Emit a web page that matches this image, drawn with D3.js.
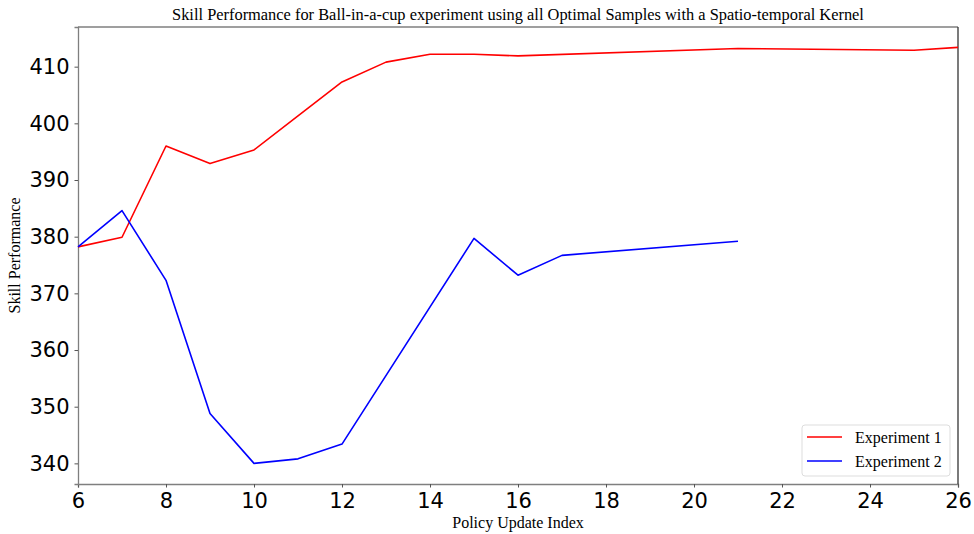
<!DOCTYPE html>
<html>
<head>
<meta charset="utf-8">
<script src="https://cdn.jsdelivr.net/npm/d3@7"></script>
<style>
  html, body { margin: 0; padding: 0; background: #fff; }
  svg { display: block; }
</style>
</head>
<body>
<svg id="chart" width="974" height="534"></svg>
<script>
// Experiment 1 (red)
const exp1X = [6, 7, 8, 9, 10, 11, 12, 13, 14, 15, 16, 21, 25, 26];
const exp1Y = [378.2, 379.9, 396.0, 392.9, 395.3, 401.3, 407.3, 410.8, 412.2, 412.2, 411.9, 413.2, 412.9, 413.4];

// Experiment 2 (blue)
const exp2X = [6, 7, 8, 9, 10, 11, 12, 15, 16, 17, 21];
const exp2Y = [378.2, 384.6, 372.3, 348.8, 340.0, 340.8, 343.4, 379.7, 373.2, 376.7, 379.2];

const xTicks = [6, 8, 10, 12, 14, 16, 18, 20, 22, 24, 26];
const yTicks = [340, 350, 360, 370, 380, 390, 400, 410];

const seriesNames = ["Experiment 1", "Experiment 2"];
const seriesColors = ["#ff0000", "#0000ff"];

const titleText = "Skill Performance for Ball-in-a-cup experiment using all Optimal Samples with a Spatio-temporal Kernel";
const xLabel = "Policy Update Index";
const yLabel = "Skill Performance";

const margin = { left: 78, right: 16, top: 27, bottom: 50 };
const W = 974, H = 534;
const svg = d3.select("#chart");

const x = d3.scaleLinear().domain([6, 26]).range([margin.left, W - margin.right]);
const y = d3.scaleLinear().domain([336.36, 417.0]).range([H - margin.bottom, margin.top]);

const serif = "'Liberation Serif', 'Times New Roman', serif";
const sans = "'DejaVu Sans', sans-serif";

// axes
const xAxis = svg.append("g")
  .attr("transform", `translate(0,${H - margin.bottom})`)
  .call(d3.axisBottom(x).tickValues(xTicks).tickFormat(d3.format("d")).tickSizeOuter(0).tickSize(3.5).tickPadding(5));
const yAxis = svg.append("g")
  .attr("transform", `translate(${margin.left},0)`)
  .call(d3.axisLeft(y).tickValues(yTicks).tickFormat(d3.format("d")).tickSizeOuter(0).tickSize(3.5).tickPadding(5));

[xAxis, yAxis].forEach(g => {
  g.select(".domain").attr("stroke", "#7f7f7f").attr("stroke-width", 1.3);
  g.selectAll(".tick line").attr("stroke", "#555").attr("stroke-width", 1);
  g.selectAll(".tick text").attr("fill", "#000").style("font-family", sans).style("font-size", "21px");
});
xAxis.selectAll(".tick text").attr("dy", "0.75em");

// top and right spines
svg.append("line")
  .attr("x1", margin.left).attr("x2", W - margin.right)
  .attr("y1", margin.top).attr("y2", margin.top)
  .attr("stroke", "#7f7f7f").attr("stroke-width", 1.3);
svg.append("line")
  .attr("x1", W - margin.right).attr("x2", W - margin.right)
  .attr("y1", margin.top).attr("y2", H - margin.bottom)
  .attr("stroke", "#333").attr("stroke-width", 1.3);

// lines
const line = d3.line().x(d => x(d[0])).y(d => y(d[1]));
const series = [
  exp1X.map((v, i) => [v, exp1Y[i]]),
  exp2X.map((v, i) => [v, exp2Y[i]])
];
series.forEach((pts, i) => {
  svg.append("path")
    .datum(pts)
    .attr("fill", "none")
    .attr("stroke", seriesColors[i])
    .attr("stroke-width", 1.6)
    .attr("stroke-linejoin", "round")
    .attr("d", line);
});

// title and axis labels
svg.append("text")
  .attr("x", (margin.left + W - margin.right) / 2).attr("y", 20)
  .attr("text-anchor", "middle")
  .style("font-family", serif).style("font-size", "16.4px")
  .text(titleText);
svg.append("text")
  .attr("x", (margin.left + W - margin.right) / 2).attr("y", 528)
  .attr("text-anchor", "middle")
  .style("font-family", serif).style("font-size", "16px")
  .text(xLabel);
svg.append("text")
  .attr("transform", `translate(20,${(margin.top + H - margin.bottom) / 2}) rotate(-90)`)
  .attr("text-anchor", "middle")
  .style("font-family", serif).style("font-size", "16px")
  .text(yLabel);

// legend
const lg = svg.append("g").attr("transform", "translate(802,425)");
lg.append("rect")
  .attr("x", 0).attr("y", 0).attr("width", 148).attr("height", 51)
  .attr("rx", 3).attr("fill", "#fff").attr("stroke", "#ddd").attr("stroke-width", 1);
seriesNames.forEach((name, i) => {
  const cy = 12 + i * 24;
  lg.append("line")
    .attr("x1", 5).attr("x2", 40).attr("y1", cy).attr("y2", cy)
    .attr("stroke", seriesColors[i]).attr("stroke-width", 1.6);
  lg.append("text")
    .attr("x", 53).attr("y", cy).attr("dy", "0.35em")
    .style("font-family", serif).style("font-size", "16px")
    .text(name);
});
</script>
</body>
</html>
